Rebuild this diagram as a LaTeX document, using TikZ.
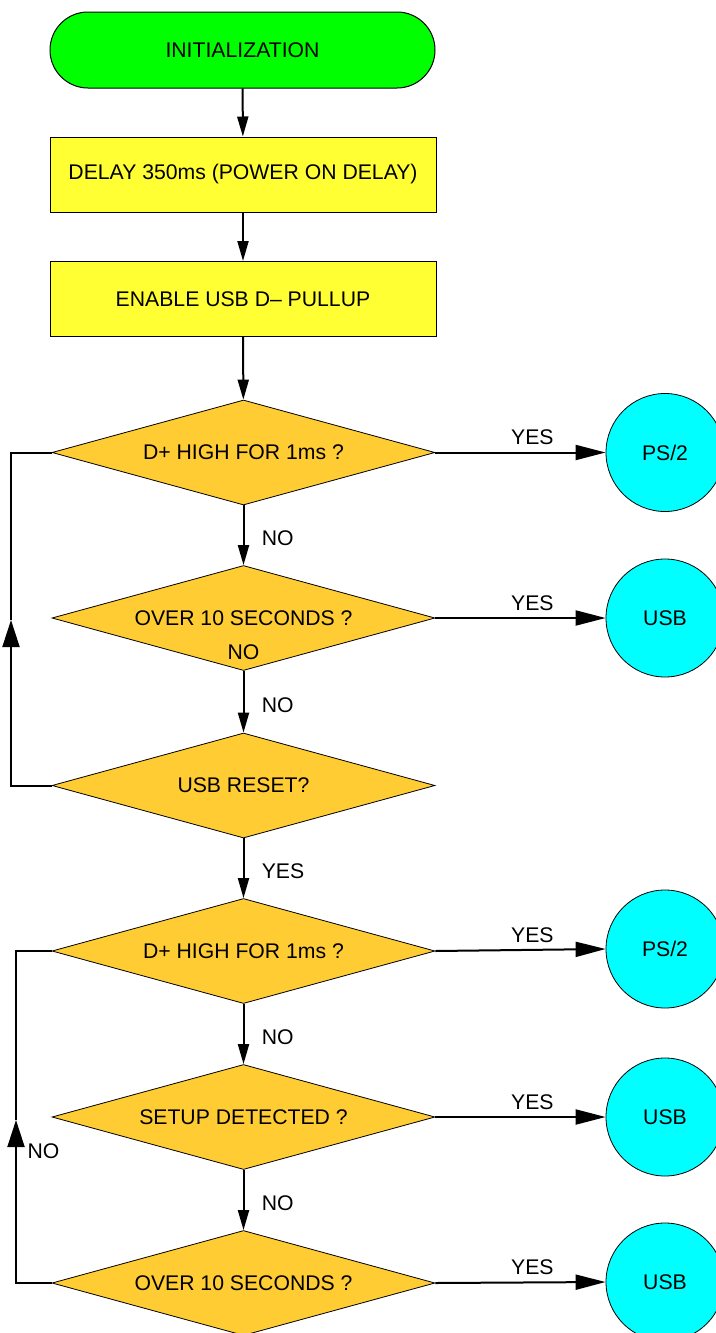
\documentclass[tikz,border=0pt]{standalone}
\usepackage{fontspec}
\setmainfont{Liberation Sans}
\usepackage{xcolor}
\usetikzlibrary{shapes.geometric,arrows.meta,positioning,calc}

\definecolor{initgreen}{HTML}{00FF00}
\definecolor{boxyellow}{HTML}{FFFF33}
\definecolor{decorange}{HTML}{FFCC33}
\definecolor{endcyan}{HTML}{00FFFF}

\tikzset{
    txt/.style={font=\fontsize{21.2}{25}\selectfont},
    term/.style={txt, draw, line width=1pt, fill=initgreen, rectangle, rounded corners=38pt,
        minimum width=385pt, minimum height=76pt, inner sep=0pt},
    procbox/.style={txt, draw, line width=1pt, fill=boxyellow, rectangle,
        minimum width=386pt, minimum height=75pt, inner sep=0pt},
    decision/.style={txt, draw, line width=0.8pt, fill=decorange, diamond, aspect=3.65,
        minimum width=383pt, minimum height=105pt, inner sep=0pt},
    endcircle/.style={txt, draw, line width=0.8pt, fill=endcyan, circle,
        minimum size=118pt, inner sep=0pt},
    downline/.style={line width=2pt, -{Triangle[length=20pt,width=11pt]}},
    yesline/.style={line width=2pt, -{Triangle[length=30pt,width=15pt]}},
    upline/.style={line width=2pt, -{Triangle[length=27pt,width=17pt]}},
    backline/.style={line width=2pt},
    nolabel/.style={txt, right=14pt, yshift=-3pt},
    yeslabel/.style={txt, pos=0.57, above, yshift=3pt}
}

\begin{document}
\begin{tikzpicture}[x=1pt, y=-1pt]
    \useasboundingbox (0,0) rectangle (715,1333);

    % start and setup steps
    \node[term] (init) at (242.5,50) {INITIALIZATION};
    \node[procbox] (delay) at (243,174.5) {DELAY 350ms (POWER ON DELAY)};
    \node[procbox] (pullup) at (243,299) {ENABLE USB D– PULLUP};

    % first detection loop
    \node[decision] (dA) at (243.5,452.5) {D+ HIGH FOR 1ms ?};
    \node[decision] (dB) at (243.5,618) {OVER 10 SECONDS ?};
    \node[txt] (dBno) at (243.5,652) {NO};
    \node[decision] (dC) at (243.5,785.5) {USB RESET?};

    % second detection loop
    \node[decision] (dD) at (243.5,951) {D+ HIGH FOR 1ms ?};
    \node[decision] (dE) at (243.5,1117) {SETUP DETECTED ?};
    \node[decision] (dF) at (243.5,1283) {OVER 10 SECONDS ?};

    % outcomes
    \node[endcircle] (psA) at (665,452.5) {PS/2};
    \node[endcircle] (usbA) at (665,618) {USB};
    \node[endcircle] (psB) at (665,949) {PS/2};
    \node[endcircle] (usbB) at (665,1117) {USB};
    \node[endcircle] (usbC) at (665,1282) {USB};

    \draw[downline] (init) -- (delay);
    \draw[downline] (delay) -- (pullup);
    \draw[downline] (pullup) -- (dA);
    \draw[downline] (dA) -- node[nolabel] (noA) {NO} (dB);
    \draw[downline] (dB) -- node[nolabel] (noB) {NO} (dC);
    \draw[downline] (dC) -- node[nolabel] (yesC) {YES} (dD);
    \draw[downline] (dD) -- node[nolabel] (noD) {NO} (dE);
    \draw[downline] (dE) -- node[nolabel] (noE) {NO} (dF);

    \draw[yesline] (dA.east) -- node[yeslabel] {YES} (psA.west);
    \draw[yesline] (dB.east) -- node[yeslabel] {YES} (usbA.west);
    \draw[yesline] (dD.east) -- node[yeslabel] {YES} (psB.west);
    \draw[yesline] (dE.east) -- node[yeslabel] {YES} (usbB.west);
    \draw[yesline] (dF.east) -- node[yeslabel] {YES} (usbC.west);

    % loops back on the left
    \coordinate (upA) at (11,620);
    \draw[upline] (dC.west) -| (upA);
    \draw[backline] (upA) |- (dA.west);

    \coordinate (upB) at (16,1120);
    \draw[upline] (dF.west) -| (upB);
    \draw[backline] (upB) |- (dD.west);
    \node[txt, right=8pt] (noloop) at (16,1151) {NO};
\end{tikzpicture}
\end{document}
